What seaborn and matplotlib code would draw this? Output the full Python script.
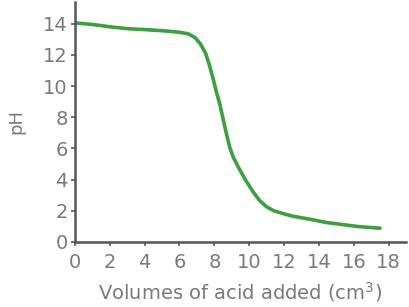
import matplotlib
matplotlib.use("Agg")
import matplotlib.pyplot as plt
import seaborn as sns
import pandas as pd

volume = [0.0, 1.0, 2.0, 3.0, 4.0, 5.0, 6.0, 6.5, 6.9, 7.2, 7.5, 7.7, 7.9, 8.1, 8.3, 8.5, 8.7, 8.9, 9.1, 9.4, 9.8, 10.2, 10.6, 11.0, 11.4, 12.0, 12.5, 13.5, 14.4, 15.3, 16.3, 17.5]
ph = [14.05, 13.95, 13.8, 13.68, 13.62, 13.55, 13.45, 13.35, 13.1, 12.7, 12.1, 11.4, 10.6, 9.7, 8.9, 7.9, 6.9, 6.0, 5.4, 4.75, 3.95, 3.25, 2.65, 2.25, 2.0, 1.8, 1.65, 1.45, 1.25, 1.12, 0.98, 0.88]

xticks = list(range(0, 19, 2))
yticks = list(range(0, 15, 2))

df = pd.DataFrame({"volume": volume, "ph": ph})

sns.set_theme(style="white")
plt.rcParams['font.family'] = ['DejaVu Sans']

fig = plt.figure(figsize=(4.09, 3.07), dpi=100)
ax = fig.add_axes([0.183, 0.212, 0.81, 0.782])
sns.lineplot(data=df, x="volume", y="ph", ax=ax, color="#3e9e40", linewidth=2.6, sort=False)

ax.set_xlim(0, 19)
ax.set_ylim(0, 15.4)
ax.set_xticks(xticks)
ax.set_yticks(yticks)
gray = "#7a7a7a"
ax.tick_params(axis="both", direction="out", length=3, width=1.2, color="#555555",
               labelsize=14, labelcolor=gray, bottom=True, left=True)
ax.tick_params(axis="x", pad=5)
ax.tick_params(axis="y", pad=2)
for s in ["top", "right"]:
    ax.spines[s].set_visible(False)
for s in ["left", "bottom"]:
    ax.spines[s].set_color("#555555")
    ax.spines[s].set_linewidth(1.8)
ax.set_xlabel("Volumes of acid added (cm$^3$)", fontsize=14, color=gray, labelpad=6)
ax.set_ylabel("pH", fontsize=13, color=gray, labelpad=13)
fig.savefig("out.png", dpi=100)
